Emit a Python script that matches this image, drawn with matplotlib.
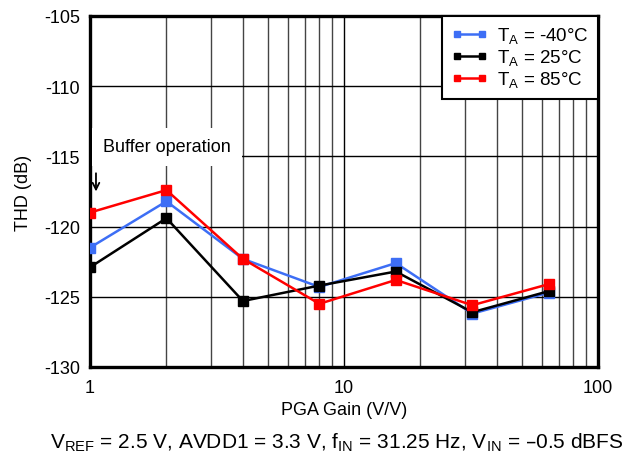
import matplotlib.pyplot as plt
from matplotlib.ticker import NullFormatter

plt.rcParams['font.family'] = ['Liberation Sans', 'DejaVu Sans']

# data
gain = [1, 2, 4, 8, 16, 32, 64]
thd_m40 = [-121.5, -118.2, -122.3, -124.3, -122.6, -126.2, -124.7]
thd_25 = [-122.9, -119.4, -125.3, -124.2, -123.2, -126.1, -124.6]
thd_85 = [-119.0, -117.4, -122.3, -125.5, -123.8, -125.6, -124.1]
labels = ['T$_\\mathregular{A}$ = -40°C', 'T$_\\mathregular{A}$ = 25°C', 'T$_\\mathregular{A}$ = 85°C']
colors = ['#3d6ef5', '#000000', '#ff0000']

fig = plt.figure(figsize=(6.39, 4.64), dpi=100)
ax = fig.add_axes([0.1408, 0.2069, 0.795, 0.7565])

for y, lbl, c in zip([thd_m40, thd_25, thd_85], labels, colors):
    ax.plot(gain, y, color=c, lw=1.8, marker='s', ms=6.5, label=lbl, zorder=3)

ax.set_xscale('log')
ax.set_xlim(1, 100)
ax.set_ylim(-130, -105)
ax.set_yticks(range(-130, -104, 5))
ax.set_yticklabels([f'-{abs(v)}' for v in range(-130, -104, 5)])
ax.set_xticks([1, 10, 100])
ax.set_xticklabels(['1', '10', '100'])
ax.xaxis.set_minor_formatter(NullFormatter())
ax.grid(True, which='major', color='#000000', lw=1)
ax.grid(True, which='minor', axis='x', color='#444444', lw=1)
ax.tick_params(which='both', length=0, labelsize=13)
ax.tick_params(axis='x', pad=9)
ax.tick_params(axis='y', pad=7)
for s in ax.spines.values():
    s.set_linewidth(2.4)

ax.set_xlabel('PGA Gain (V/V)', fontsize=13, labelpad=3)
ax.set_ylabel('THD (dB)', fontsize=13, labelpad=9)

ax.text(1.125, -114.33, 'Buffer operation', fontsize=13, ha='left', va='center',
        bbox=dict(boxstyle='square,pad=0.6', facecolor='white', edgecolor='none'),
        zorder=4)
ax.annotate('', xy=(1.056, -117.5), xytext=(1.056, -116.2),
            arrowprops=dict(arrowstyle='->', color='black', lw=1.3,
                            shrinkA=0, shrinkB=0, mutation_scale=12), zorder=5)

leg = ax.legend(loc='upper right', fontsize=13.5, frameon=True, fancybox=False,
                borderaxespad=0, handlelength=1.9, numpoints=2, markerscale=0.75,
                labelspacing=0.1, borderpad=0.5, handletextpad=0.5)
leg.get_frame().set_edgecolor('black')
leg.get_frame().set_linewidth(1.5)
leg.get_frame().set_alpha(1)
leg.set_zorder(6)

fig.text(0.527, 0.045, 'V$_\\mathregular{REF}$ = 2.5 V, AVDD1 = 3.3 V, f$_\\mathregular{IN}$ = 31.25 Hz, '
         'V$_\\mathregular{IN}$ = \u20130.5 dBFS', ha='center', va='center', fontsize=15)

fig.savefig('out.png', dpi=100)
